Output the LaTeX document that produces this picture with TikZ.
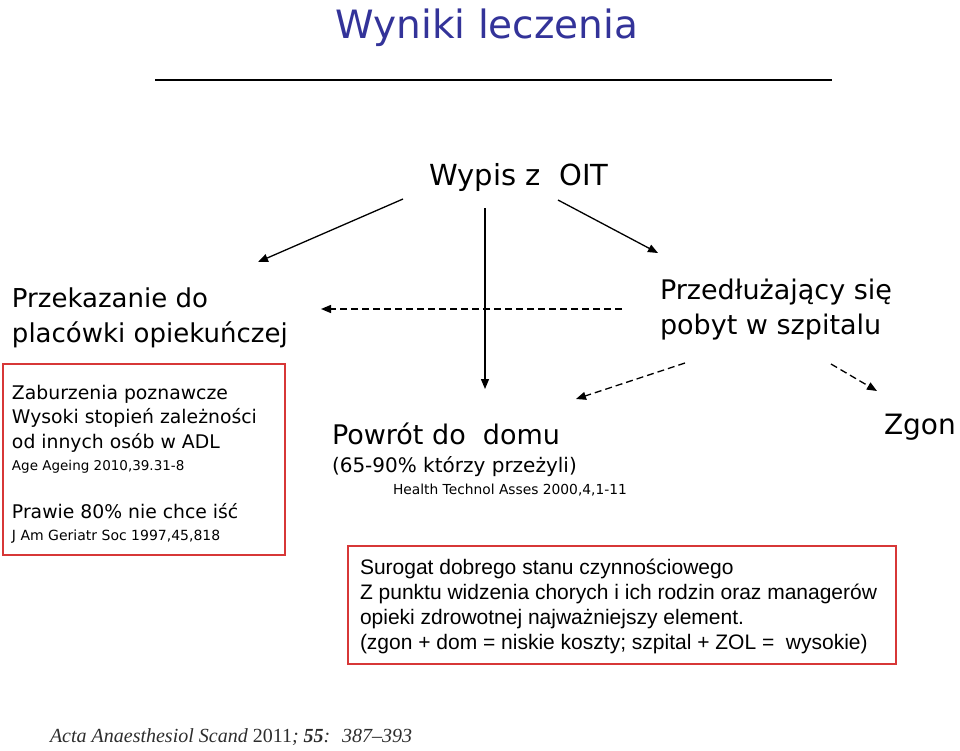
\documentclass[tikz,border=0pt]{standalone}
\usepackage{fontspec}
\setmainfont{DejaVu Sans}
\newfontfamily\arialf{Liberation Sans}
\newfontfamily\seriff{Liberation Serif}
\usetikzlibrary{arrows.meta}
\definecolor{titleblue}{RGB}{51,51,153}
\definecolor{boxred}{RGB}{215,55,55}
\definecolor{citegray}{RGB}{45,45,45}
\newcommand{\fs}[1]{\fontsize{#1}{#1}\selectfont}
\begin{document}
\begin{tikzpicture}[x=1pt,y=-1pt,
  every node/.style={inner sep=0pt, outer sep=0pt},
  txt/.style={anchor=base west},
  arr/.style={-{Triangle[length=10pt,width=8pt]}, line width=1.3pt},
  darr/.style={arr, dash pattern=on 7pt off 4pt},
  redbox/.style={draw=boxred, line width=1.3pt}]
\useasboundingbox (0,0) rectangle (960,750);

% title
\node[anchor=base, text=titleblue] (title) at (487,38) {\fs{39}Wyniki leczenia};
\draw[line width=1.2pt] (155,80) coordinate (rulel) -- (832,80) coordinate (ruler);

% top node
\node[anchor=base] (wypis) at (519,185) {\fs{29}Wypis z~ OIT};

% left outcome
\node[txt] (przek1) at (12,307) {\fs{26}Przekazanie do};
\node[txt] (przek2) at (12,342) {\fs{26}placówki opiekuńczej};

% right outcome
\node[txt] (przed1) at (660,299) {\fs{27}Przedłużający się};
\node[txt] (przed2) at (660,334) {\fs{27}pobyt w szpitalu};

% left red box
\draw[redbox] (3,364) rectangle (285,555);
\node[txt] (l1) at (12,399) {\fs{18.8}Zaburzenia poznawcze};
\node[txt] (l2) at (12,423) {\fs{18.8}Wysoki stopień zależności};
\node[txt] (l3) at (12,448) {\fs{18.8}od innych osób w ADL};
\node[txt] (l4) at (12,470) {\fs{13.5}Age Ageing 2010,39.31-8};
\node[txt] (l5) at (12,518) {\fs{18.8}Prawie 80\% nie chce iść};
\node[txt] (l6) at (12,540) {\fs{14}J Am Geriatr Soc 1997,45,818};

% home
\node[txt] (powrot) at (332,444) {\fs{27}Powrót do~ domu};
\node[txt] (powrot2) at (332,472) {\fs{20}(65-90\% którzy przeżyli)};
\node[txt] (powrot3) at (393,494) {\fs{13.8}Health Technol Asses 2000,4,1-11};

% death
\node[txt] (zgon) at (884,434) {\fs{28}Zgon};

% right red box
\draw[redbox] (348,546) rectangle (896,664);
\node[txt] (r1) at (360,574) {\arialf\fs{21}Surogat dobrego stanu czynnościowego};
\node[txt] (r2) at (360,599) {\arialf\fs{21}Z punktu widzenia chorych i ich rodzin oraz managerów};
\node[txt] (r3) at (360,624) {\arialf\fs{21}opieki zdrowotnej najważniejszy element.};
\node[txt] (r4) at (360,649) {\arialf\fs{21}(zgon + dom = niskie koszty; szpital + ZOL =~ wysokie)};

% citation
\node[txt, text=citegray] (acta) at (50,742) {\seriff\fs{20}\textit{Acta Anaesthesiol Scand} 2011\textit{;} \textbf{\textit{55}}\textit{:~ 387–393}};

% connectors
\coordinate (aLs) at (403,199);
\coordinate (aLe) at (258,262);
\coordinate (aMs) at (485,208);
\coordinate (aMe) at (485,389);
\coordinate (aRs) at (558,200);
\coordinate (aRe) at (658,253);
\coordinate (dHs) at (622,309);
\coordinate (dHe) at (321,309);
\coordinate (dDs) at (685,363);
\coordinate (dDe) at (576,399);
\coordinate (dZs) at (831,364);
\coordinate (dZe) at (877,391);

\draw[arr] (aLs) -- (aLe);
\draw[arr] (aMs) -- (aMe);
\draw[arr] (aRs) -- (aRe);
\draw[darr] (dHs) -- (dHe);
\draw[darr] (dDs) -- (dDe);
\draw[darr] (dZs) -- (dZe);
\end{tikzpicture}
\end{document}
